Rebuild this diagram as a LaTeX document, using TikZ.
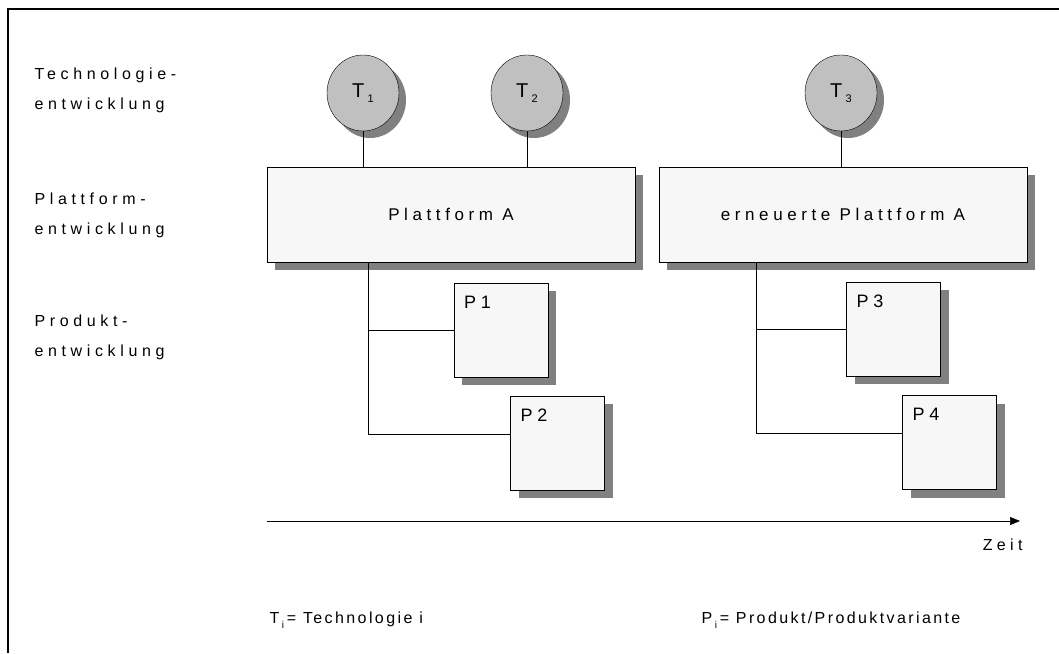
\documentclass[tikz,border=0pt]{standalone}
\usepackage{fontspec}
\setmainfont{Liberation Sans}
\newfontfamily\spacedfont[LetterSpace=29]{Liberation Sans}
\newfontfamily\boxfont[LetterSpace=27]{Liberation Sans}
\newfontfamily\legendfont[LetterSpace=15]{Liberation Sans}
\usetikzlibrary{shapes.geometric,shadows,arrows.meta}

\definecolor{boxgray}{RGB}{247,247,247}
\definecolor{techgray}{RGB}{192,192,192}
\definecolor{shadowgray}{RGB}{128,128,128}

\newcommand{\techlabel}[1]{T\,\raisebox{-0.5ex}{\fontsize{11}{11}\selectfont #1}}
\newcommand{\idx}[1]{\,\raisebox{-0.6ex}{\fontsize{10}{10}\selectfont #1}\,}

\begin{document}
\begin{tikzpicture}[x=1pt,y=-1pt]

%
% Styles
%
\tikzstyle{tech}     = [ellipse,draw,fill=techgray,minimum width=72pt,minimum height=76pt,inner sep=0pt,
                        font=\fontsize{20}{20}\selectfont,
                        drop shadow={shadow xshift=7pt,shadow yshift=-7pt,fill=shadowgray,opacity=1}]
\tikzstyle{platform} = [rectangle,draw,fill=boxgray,minimum width=368pt,minimum height=95pt,
                        font=\boxfont\fontsize{17}{17}\selectfont,
                        drop shadow={shadow xshift=8pt,shadow yshift=-8pt,fill=shadowgray,opacity=1}]
\tikzstyle{product}  = [rectangle,draw,fill=boxgray,minimum width=94pt,minimum height=94pt,
                        drop shadow={shadow xshift=8pt,shadow yshift=-8pt,fill=shadowgray,opacity=1}]
\tikzstyle{plabel}   = [anchor=north west,inner sep=0pt,font=\boxfont\fontsize{18}{18}\selectfont]
\tikzstyle{rowlabel} = [anchor=west,align=left,font=\spacedfont\fontsize{16}{30}\selectfont]
\tikzstyle{legend}   = [anchor=west,font=\legendfont\fontsize{16}{16}\selectfont]
\tikzstyle{link}     = [semithick]

\useasboundingbox (0,0) rectangle (1059,653);
\draw[line width=2pt] (8,653) -- (8,9) -- (1059,9);

% rows
\node[rowlabel] (rowT) at (31,90)  {Technologie-\\entwicklung};
\node[rowlabel] (rowP) at (31,215) {Plattform-\\entwicklung};
\node[rowlabel] (rowD) at (31,337) {Produkt-\\entwicklung};

% technologies
\node[tech] (T1) at (363,93) {\techlabel{1}};
\node[tech] (T2) at (527,93) {\techlabel{2}};
\node[tech] (T3) at (841,93) {\techlabel{3}};

% platforms
\node[platform] (PA) at (451,214.5) {Plattform\ A};
\node[platform] (PB) at (843,214.5) {erneuerte Plattform\ A};

% products
\node[product] (P1) at (501,330)   {};
\node[product] (P2) at (557.5,443) {};
\node[product] (P3) at (893.5,329) {};
\node[product] (P4) at (949.5,442.5) {};
\node[plabel] at ([xshift=10pt,yshift=-13pt]P1.north west) {P1};
\node[plabel] at ([xshift=10pt,yshift=-13pt]P2.north west) {P2};
\node[plabel] at ([xshift=10pt,yshift=-13pt]P3.north west) {P3};
\node[plabel] at ([xshift=10pt,yshift=-13pt]P4.north west) {P4};

\draw[link] (T1) -- (T1 |- PA.north);
\draw[link] (T2) -- (T2 |- PA.north);
\draw[link] (T3) -- (T3 |- PB.north);

\coordinate (jA) at (368,434);
\coordinate (jB) at (756,433);
\draw[link] (PA.south -| jA) -- (jA) -- (jA -| P2.west);
\draw[link] (jA |- P1.west) -- (P1.west);
\draw[link] (PB.south -| jB) -- (jB) -- (jB -| P4.west);
\draw[link] (jB |- P3.west) -- (P3.west);

% time axis
\coordinate (t0) at (267,521);
\coordinate (t1) at (1020,521);
\draw[link,-{Triangle[length=10pt,width=8pt]}] (t0) -- (t1);
\node[anchor=north east,font=\boxfont\fontsize{16}{16}\selectfont] (zeit) at (1026,535) {Zeit};

% legend
\node[legend] (legT) at (266,620) {T\idx{i}= Technologie i};
\node[legend] (legP) at (698,620) {P\idx{i}= Produkt/Produktvariante};

\end{tikzpicture}
\end{document}
